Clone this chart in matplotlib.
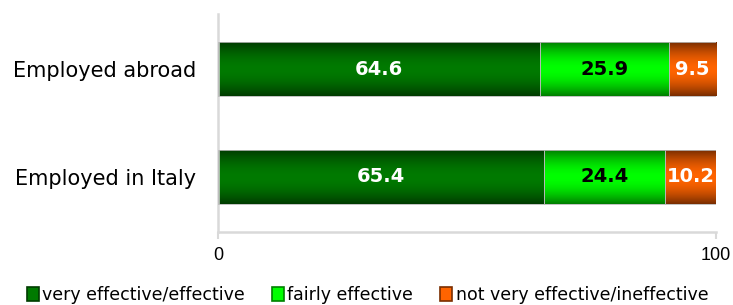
import numpy as np
import matplotlib
matplotlib.use("Agg")
import matplotlib.pyplot as plt
from matplotlib.colors import LinearSegmentedColormap
from matplotlib.patches import Patch

categories = ["Employed in Italy", "Employed abroad"]
series_names = ["very effective/effective", "fairly effective", "not very effective/ineffective"]
very_effective = [65.4, 64.6]
fairly_effective = [24.4, 25.9]
not_effective = [10.2, 9.5]
x_ticks = [0, 100]

series = [very_effective, fairly_effective, not_effective]
edge_cols = ["#003c00", "#008000", "#7a2e00"]
mid_cols = ["#007a00", "#00ff00", "#ff6400"]
label_cols = ["white", "black", "white"]

fig = plt.figure(figsize=(7.33, 3.05), dpi=100)
W, H = 733, 305
ax = fig.add_axes([218 / W, 1 - 232 / H, (716 - 218) / W, (232 - 14) / H])

bar_h = 0.5
prof = np.linspace(0, 1, 64)
shape = 1 - np.abs(2 * prof - 1) ** 1.8
grad = shape.reshape(-1, 1)

ypos = np.arange(len(categories))
for i, vals in enumerate(series):
    cmap = LinearSegmentedColormap.from_list(f"c{i}", [edge_cols[i], mid_cols[i]])
    lefts = [sum(s[j] for s in series[:i]) for j in range(len(categories))]
    for j, v in enumerate(vals):
        l = lefts[j]
        ax.imshow(grad, extent=[l, l + v, ypos[j] - bar_h / 2, ypos[j] + bar_h / 2],
                  aspect="auto", cmap=cmap, vmin=0, vmax=1, origin="lower", zorder=2)
        ax.add_patch(plt.Rectangle((l, ypos[j] - bar_h / 2), v, bar_h, fill=False,
                                   edgecolor="#b8b8b8", lw=0.6, zorder=3))
        ax.text(l + v / 2, ypos[j], f"{v:.1f}", ha="center", va="center",
                color=label_cols[i], fontsize=14, fontweight="bold", zorder=4)

ax.set_xlim(0, 100)
ax.set_ylim(-0.51, 1.51)
ax.set_yticks(ypos)
ax.set_yticklabels(categories, fontsize=15)
ax.tick_params(axis="y", length=0, pad=15.5)
ax.set_xticks(x_ticks)
ax.set_xticklabels([str(t) for t in x_ticks], fontsize=13, family="Liberation Sans")
ax.tick_params(axis="x", length=5, width=1.5, color="#d9d9d9", pad=5.5)
for s in ["top", "right"]:
    ax.spines[s].set_visible(False)
for s in ["left", "bottom"]:
    ax.spines[s].set_color("#d9d9d9")
    ax.spines[s].set_linewidth(1.8)

handles = [Patch(facecolor=mid_cols[i], edgecolor=edge_cols[i], lw=1.2) for i in range(3)]
fig.legend(handles, series_names, loc="center", bbox_to_anchor=(367.5 / W, 1 - 295 / H),
           ncol=3, frameon=False, fontsize=12.5, handlelength=0.7, handleheight=0.9,
           handletextpad=0.2, columnspacing=1.55, borderaxespad=0)

fig.savefig("out.png", dpi=100)
